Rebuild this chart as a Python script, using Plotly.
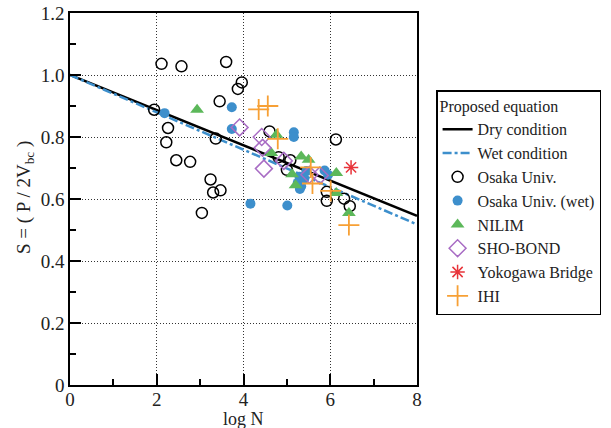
import plotly.graph_objects as go

# Proposed equation lines (end points at log N = 0 and 8)
line_logN = [0, 8]
dry_S = [1.0, 0.546]
wet_S = [1.0, 0.518]

# Test data: (log N, S)
osaka_x = [1.94, 2.11, 2.57, 3.60, 3.96, 3.87, 3.45, 2.26, 2.22, 3.36, 2.45, 2.77,
           3.24, 3.30, 3.47, 3.04, 4.60, 6.13, 4.81, 5.08, 5.00, 5.92, 5.92, 6.32, 6.45]
osaka_y = [0.888, 1.036, 1.028, 1.042, 0.976, 0.955, 0.915, 0.829, 0.783, 0.795, 0.725, 0.720,
           0.663, 0.621, 0.628, 0.555, 0.818, 0.792, 0.735, 0.725, 0.694, 0.623, 0.594, 0.601, 0.577]

osaka_wet_x = [2.18, 3.73, 3.73, 5.16, 5.16, 4.16, 5.01, 5.25, 5.33, 5.29, 5.40, 5.45, 5.87, 5.95, 5.30]
osaka_wet_y = [0.877, 0.896, 0.826, 0.815, 0.800, 0.585, 0.579, 0.652, 0.641, 0.672, 0.665, 0.690,
               0.692, 0.678, 0.632]

nilim_x = [2.93, 4.76, 4.64, 5.33, 5.50, 5.12, 5.20, 6.14, 6.14, 6.43]
nilim_y = [0.888, 0.807, 0.748, 0.737, 0.727, 0.680, 0.644, 0.684, 0.619, 0.555]

shobond_x = [3.91, 4.42, 4.44, 4.47, 4.93, 5.52, 5.76]
shobond_y = [0.831, 0.800, 0.765, 0.698, 0.723, 0.678, 0.676]

yokogawa_x = [6.48]
yokogawa_y = [0.702]

ihi_x = [4.35, 4.56, 4.79, 5.55, 5.59, 6.01, 6.43]
ihi_y = [0.889, 0.900, 0.794, 0.702, 0.650, 0.626, 0.516]

x_ticks = [0, 2, 4, 6, 8]
y_ticks = [0, 0.2, 0.4, 0.6, 0.8, 1.0, 1.2]
y_ticktext = ["0", "0.2", "0.4", "0.6", "0.8", "1.0", "1.2"]

SERIF = "Liberation Serif, Times New Roman, Times, serif"
TXT = "#222222"
BLUE = "#3d8fcc"

fig = go.Figure()

fig.add_trace(go.Scatter(x=line_logN, y=dry_S, mode="lines", name="Dry condition",
                         line=dict(color="black", width=2.5)))
fig.add_trace(go.Scatter(x=line_logN, y=wet_S, mode="lines", name="Wet condition",
                         line=dict(color=BLUE, width=2.5, dash="dashdot")))
fig.add_trace(go.Scatter(x=osaka_x, y=osaka_y, mode="markers", name="Osaka Univ.",
                         marker=dict(symbol="circle-open", size=11,
                                     color="black", line=dict(width=1.5, color="black"))))
fig.add_trace(go.Scatter(x=osaka_wet_x, y=osaka_wet_y, mode="markers", name="Osaka Univ. (wet)",
                         marker=dict(symbol="circle", size=10, color=BLUE)))
fig.add_trace(go.Scatter(x=nilim_x, y=nilim_y, mode="markers", name="NILIM",
                         marker=dict(symbol="triangle-up", size=12, color="#5cb85a")))
fig.add_trace(go.Scatter(x=shobond_x, y=shobond_y, mode="markers", name="SHO-BOND",
                         marker=dict(symbol="diamond-open", size=13, color="#a86cc4",
                                     line=dict(width=1.5, color="#a86cc4"))))
fig.add_trace(go.Scatter(x=yokogawa_x, y=yokogawa_y, mode="markers", name="Yokogawa Bridge",
                         marker=dict(symbol="asterisk-open", size=12, color="#e8343a",
                                     line=dict(width=1.5, color="#e8343a"))))
fig.add_trace(go.Scatter(x=ihi_x, y=ihi_y, mode="markers", name="IHI",
                         marker=dict(symbol="cross-thin-open", size=15, color="#f7a035",
                                     line=dict(width=1.8, color="#f7a035"))))

axis_common = dict(
    showline=True, linecolor="black", linewidth=1.5, mirror=True,
    ticks="inside", ticklen=11, tickwidth=1.5, tickcolor="black",
    showgrid=True, gridcolor="#333333", griddash="1px,2px", gridwidth=1,
    zeroline=False, automargin=False,
    tickfont=dict(family=SERIF, size=19, color=TXT),
)

fig.update_xaxes(range=[0, 8], tickvals=x_ticks, ticklabelstandoff=-4,
                 minor=dict(tickvals=[1, 3, 5, 7], ticks="inside", ticklen=6,
                            tickwidth=1.5, tickcolor="black", showgrid=False),
                 **axis_common)
fig.update_yaxes(range=[0, 1.2], tickvals=y_ticks, ticktext=y_ticktext,
                 minor=dict(tickvals=[0.1, 0.3, 0.5, 0.7, 0.9, 1.1], ticks="inside", ticklen=6,
                            tickwidth=1.5, tickcolor="black", showgrid=False),
                 **axis_common)

# Axis titles
fig.add_annotation(text="log N", xref="paper", yref="paper", x=0.5, y=-0.116,
                   xanchor="center", yanchor="bottom", borderpad=0, yshift=-2,
                   showarrow=False, font=dict(family=SERIF, size=18, color=TXT))
fig.add_annotation(text="S = ( P / 2V<sub>bc</sub> )", textangle=-90,
                   xref="paper", yref="paper", x=-0.130, y=0.505,
                   xanchor="center", yanchor="middle",
                   showarrow=False, font=dict(family=SERIF, size=19, color=TXT))

fig.update_layout(
    width=611, height=428,
    margin=dict(l=70, r=194, t=13, b=43, autoexpand=False),
    plot_bgcolor="white", paper_bgcolor="white",
    showlegend=True,
    legend=dict(
        x=1.055, y=0.793, xanchor="left", yanchor="top",
        bordercolor="black", borderwidth=1.5, bgcolor="white",
        font=dict(family=SERIF, size=16, color=TXT),
        title=dict(text="Proposed equation", font=dict(family=SERIF, size=16, color=TXT)),
        itemwidth=30, tracegroupgap=0,
    ),
)

fig.write_html("out.html")
